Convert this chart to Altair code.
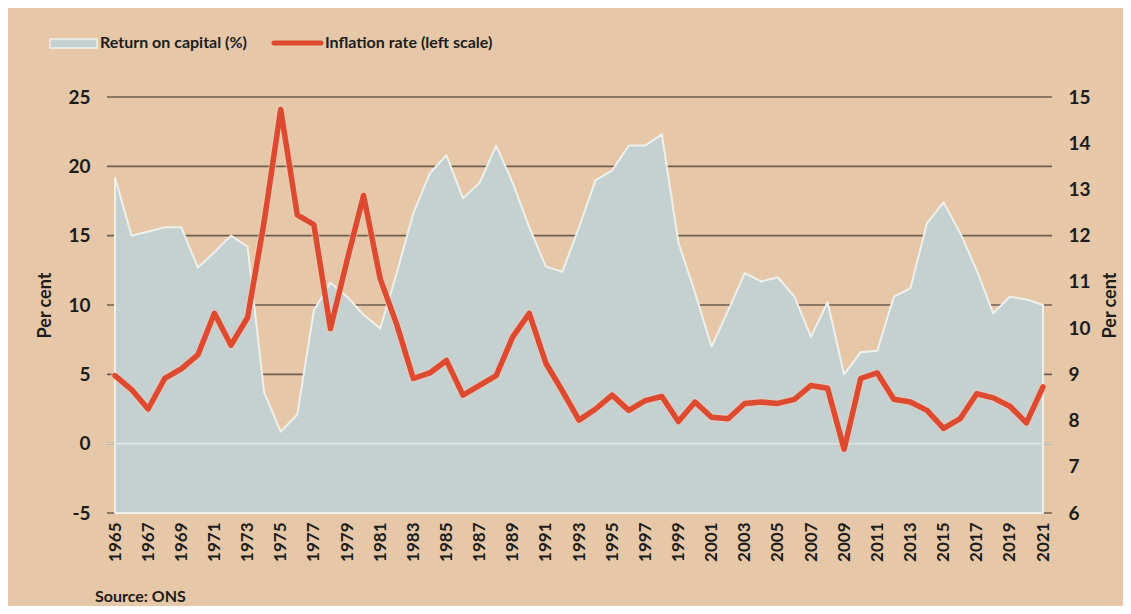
import altair as alt
import pandas as pd

# ---- data ----
years = list(range(1965, 2022))

# Return on capital (%), right scale
return_on_capital = [
    13.26, 12.00, 12.09, 12.18, 12.18, 11.31, 11.64, 12.00, 11.76, 8.61,
    7.76, 8.13, 10.38, 10.98, 10.68, 10.29, 9.99, 11.19, 12.48, 13.35,
    13.74, 12.81, 13.14, 13.95, 13.14, 12.18, 11.33, 11.22, 12.18, 13.20,
    13.41, 13.95, 13.95, 14.19, 11.85, 10.77, 9.60, 10.38, 11.19, 11.01,
    11.10, 10.68, 9.81, 10.56, 9.00, 9.48, 9.51, 10.68, 10.86, 12.27,
    12.72, 12.06, 11.25, 10.32, 10.68, 10.62, 10.50,
]

# Inflation rate (%), left scale
inflation = [
    4.9, 3.9, 2.5, 4.7, 5.4, 6.4, 9.4, 7.1, 9.1, 16.0,
    24.1, 16.5, 15.8, 8.3, 13.2, 17.9, 11.9, 8.6, 4.7, 5.1,
    6.0, 3.5, 4.2, 4.9, 7.7, 9.4, 5.8, 3.8, 1.7, 2.5,
    3.5, 2.4, 3.1, 3.4, 1.6, 3.0, 1.9, 1.8, 2.9, 3.0,
    2.9, 3.2, 4.2, 4.0, -0.4, 4.7, 5.1, 3.2, 3.0, 2.4,
    1.1, 1.8, 3.6, 3.3, 2.7, 1.5, 4.1,
]

grid_levels = [25, 20, 15, 10, 5, 0, -5]
light_levels = [0]
left_ticks = [-5, 0, 5, 10, 15, 20, 25]
right_ticks = list(range(6, 16))
x_ticks = list(range(1965, 2022, 2))

legend_labels = ["Return on capital (%)", "Inflation rate (left scale)"]
source_label = ["Source: ONS"]

# ---- styling ----
W, H = 928, 416
BG = "#e6c8a9"
AREA = "#c5d0d1"
AREA_EDGE = "#eef0ec"
GRID = "#6f5e4f"
RED = "#de4a2f"
TEXT = "#1c1c1a"
FONT = "Lato"

df = pd.DataFrame({"year": years, "roc": return_on_capital, "infl": inflation})

left_scale = alt.Scale(domain=[-5, 25], nice=False, zero=False)
right_scale = alt.Scale(domain=[6, 15], nice=False, zero=False)
x_scale = alt.Scale(domain=[1965, 2021], nice=False, zero=False)

x_axis = alt.Axis(
    values=x_ticks, format="d", labelAngle=270, labelFontSize=17, labelFont=FONT,
    labelFontWeight="bold", labelColor=TEXT, labelPadding=9, ticks=False,
    domain=False, grid=False, title=None, labelFlush=False, labelOverlap=False,
)
x_enc = alt.X("year:Q", scale=x_scale, axis=x_axis)

left_axis = alt.Axis(
    orient="left", values=left_ticks, labelExpr="datum.value + ''",
    labelFontSize=19, labelFont=FONT, labelFontWeight="bold", labelColor=TEXT,
    labelPadding=25, ticks=False, domain=False, grid=False,
    title="Per cent", titleFont=FONT, titleFontSize=18, titleFontWeight="bold",
    titleColor=TEXT, titleX=-70, titleY=H / 2, titleAngle=270,
    titleAlign="center", titleBaseline="middle",
)
right_axis = alt.Axis(
    orient="right", values=right_ticks, labelExpr="datum.value + ''",
    labelFontSize=19, labelFont=FONT, labelFontWeight="bold", labelColor=TEXT,
    labelPadding=25, ticks=False, domain=False, grid=False,
    title="Per cent", titleFont=FONT, titleFontSize=18, titleFontWeight="bold",
    titleColor=TEXT, titleX=67, titleY=H / 2, titleAngle=270,
    titleAlign="center", titleBaseline="middle",
)

grid = alt.Chart(pd.DataFrame({"level": grid_levels})).mark_rule(
    color=GRID, strokeWidth=1.6
).encode(
    x=alt.value(-8), x2=alt.value(W + 9),
    y=alt.Y("level:Q", scale=left_scale, axis=None),
)

area = alt.Chart(df).mark_area(
    color=AREA, stroke=AREA_EDGE, strokeWidth=2, strokeJoin="round"
).encode(
    x=x_enc,
    y=alt.Y("roc:Q", scale=right_scale, axis=right_axis),
    y2=alt.datum(6),
)

zero = alt.Chart(pd.DataFrame({"level": light_levels})).mark_rule(
    color="#e4e8e6", strokeWidth=1.6, opacity=0.85
).encode(
    x=alt.value(-8), x2=alt.value(W + 9),
    y=alt.Y("level:Q", scale=left_scale, axis=None),
)

halo = alt.Chart(df).mark_line(
    color="#f3c9b8", strokeWidth=8, opacity=0.5, strokeJoin="round", strokeCap="round"
).encode(
    x=x_enc,
    y=alt.Y("infl:Q", scale=left_scale, axis=None),
)

line = alt.Chart(df).mark_line(
    color=RED, strokeWidth=5.5, strokeJoin="round", strokeCap="round"
).encode(
    x=x_enc,
    y=alt.Y("infl:Q", scale=left_scale, axis=left_axis),
)

# ---- legend ----
leg_df = pd.DataFrame({"label": legend_labels})
swatch_area = alt.Chart(leg_df.iloc[[0]]).mark_rect(
    color=AREA, stroke=AREA_EDGE, strokeWidth=1.5
).encode(
    x=alt.value(-65), x2=alt.value(-18), y=alt.value(-58), y2=alt.value(-49),
)
swatch_line = alt.Chart(leg_df.iloc[[1]]).mark_rule(
    color=RED, strokeWidth=5, strokeCap="round"
).encode(
    x=alt.value(159), x2=alt.value(206), y=alt.value(-54),
)
text_area = alt.Chart(leg_df.iloc[[0]]).mark_text(
    align="left", baseline="middle", font=FONT, fontSize=16, fontWeight="bold", color=TEXT
).encode(x=alt.value(-15), y=alt.value(-54), text="label:N")
text_line = alt.Chart(leg_df.iloc[[1]]).mark_text(
    align="left", baseline="middle", font=FONT, fontSize=16, fontWeight="bold", color=TEXT
).encode(x=alt.value(210), y=alt.value(-54), text="label:N")

source = alt.Chart(pd.DataFrame({"label": source_label})).mark_text(
    align="left", baseline="middle", font=FONT, fontSize=16, fontWeight="bold", color=TEXT
).encode(x=alt.value(-20), y=alt.value(500), text="label:N")

chart = alt.layer(
    grid, area, zero, halo, line,
    swatch_area, swatch_line, text_area, text_line, source,
).resolve_scale(
    y="independent"
).properties(
    width=W, height=H,
    autosize=alt.AutoSizeParams(type="none"),
    padding={"left": 107, "top": 89, "right": 80, "bottom": 93},
).configure(
    background=BG,
).configure_view(
    strokeWidth=0,
)

chart.save("out.html", embed_options={"renderer": "svg", "actions": False})
